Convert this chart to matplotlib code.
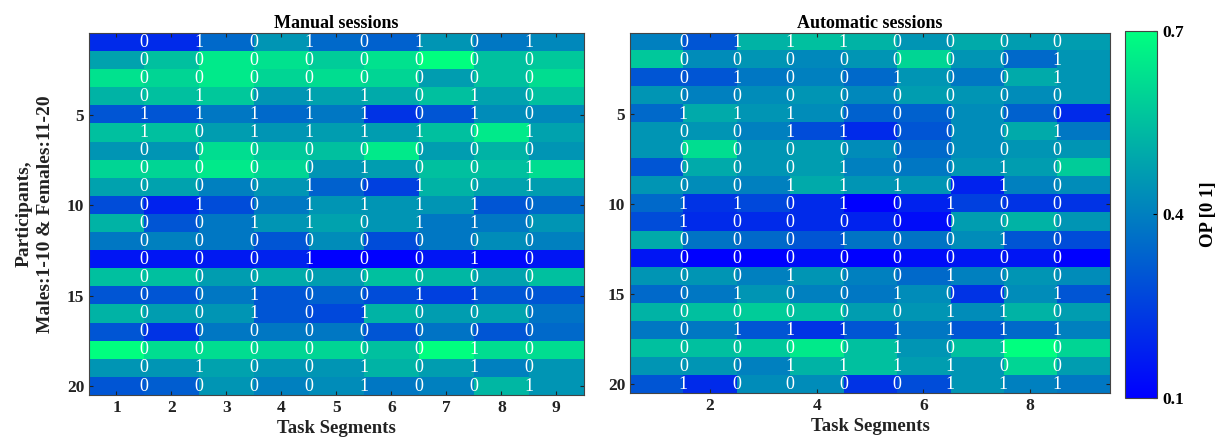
import numpy as np
import matplotlib
matplotlib.use('Agg')
import matplotlib.pyplot as plt

# OP values (20 participants x 9 task segments)
manual_op = [
    [0.20, 0.20, 0.35, 0.45, 0.35, 0.33, 0.45, 0.38, 0.42],
    [0.48, 0.55, 0.65, 0.63, 0.58, 0.63, 0.70, 0.55, 0.57],
    [0.63, 0.60, 0.65, 0.60, 0.62, 0.60, 0.47, 0.55, 0.62],
    [0.52, 0.55, 0.57, 0.45, 0.48, 0.50, 0.55, 0.48, 0.55],
    [0.30, 0.30, 0.38, 0.35, 0.38, 0.22, 0.30, 0.43, 0.42],
    [0.55, 0.55, 0.47, 0.45, 0.47, 0.47, 0.55, 0.65, 0.48],
    [0.45, 0.45, 0.62, 0.57, 0.55, 0.65, 0.47, 0.52, 0.45],
    [0.60, 0.60, 0.65, 0.60, 0.45, 0.47, 0.55, 0.55, 0.62],
    [0.48, 0.48, 0.40, 0.45, 0.33, 0.25, 0.52, 0.48, 0.47],
    [0.28, 0.18, 0.28, 0.38, 0.45, 0.45, 0.45, 0.30, 0.35],
    [0.52, 0.30, 0.38, 0.45, 0.48, 0.45, 0.38, 0.38, 0.45],
    [0.38, 0.40, 0.38, 0.30, 0.43, 0.28, 0.38, 0.43, 0.40],
    [0.15, 0.15, 0.16, 0.18, 0.10, 0.10, 0.15, 0.12, 0.15],
    [0.55, 0.55, 0.47, 0.50, 0.47, 0.55, 0.53, 0.48, 0.55],
    [0.30, 0.30, 0.38, 0.30, 0.33, 0.28, 0.25, 0.30, 0.30],
    [0.52, 0.47, 0.45, 0.30, 0.27, 0.52, 0.47, 0.48, 0.37],
    [0.30, 0.22, 0.38, 0.38, 0.38, 0.30, 0.37, 0.30, 0.35],
    [0.70, 0.62, 0.62, 0.60, 0.60, 0.55, 0.70, 0.62, 0.62],
    [0.45, 0.45, 0.48, 0.45, 0.45, 0.52, 0.47, 0.40, 0.45],
    [0.30, 0.32, 0.45, 0.40, 0.43, 0.38, 0.40, 0.53, 0.45],
]

auto_op = [
    [0.40, 0.30, 0.52, 0.55, 0.52, 0.45, 0.50, 0.47, 0.47],
    [0.57, 0.43, 0.45, 0.42, 0.45, 0.60, 0.45, 0.35, 0.45],
    [0.30, 0.30, 0.38, 0.40, 0.35, 0.45, 0.38, 0.50, 0.45],
    [0.45, 0.40, 0.43, 0.45, 0.42, 0.47, 0.45, 0.43, 0.45],
    [0.35, 0.50, 0.45, 0.43, 0.33, 0.33, 0.43, 0.33, 0.20],
    [0.45, 0.45, 0.40, 0.28, 0.20, 0.30, 0.43, 0.50, 0.38],
    [0.45, 0.62, 0.45, 0.47, 0.43, 0.35, 0.43, 0.45, 0.45],
    [0.30, 0.50, 0.45, 0.47, 0.40, 0.38, 0.45, 0.47, 0.58],
    [0.45, 0.43, 0.40, 0.50, 0.45, 0.45, 0.18, 0.40, 0.43],
    [0.35, 0.22, 0.27, 0.20, 0.10, 0.18, 0.25, 0.22, 0.22],
    [0.28, 0.20, 0.20, 0.20, 0.18, 0.13, 0.47, 0.52, 0.45],
    [0.50, 0.37, 0.35, 0.30, 0.37, 0.37, 0.43, 0.30, 0.28],
    [0.15, 0.10, 0.10, 0.13, 0.10, 0.13, 0.15, 0.15, 0.10],
    [0.45, 0.45, 0.40, 0.45, 0.40, 0.35, 0.40, 0.45, 0.43],
    [0.35, 0.38, 0.45, 0.40, 0.38, 0.43, 0.22, 0.43, 0.30],
    [0.52, 0.55, 0.58, 0.55, 0.47, 0.45, 0.43, 0.52, 0.47],
    [0.38, 0.38, 0.30, 0.22, 0.30, 0.38, 0.30, 0.35, 0.40],
    [0.55, 0.55, 0.57, 0.65, 0.55, 0.45, 0.55, 0.70, 0.60],
    [0.45, 0.45, 0.40, 0.52, 0.55, 0.47, 0.45, 0.60, 0.47],
    [0.30, 0.20, 0.43, 0.43, 0.22, 0.28, 0.45, 0.40, 0.38],
]

# 0/1 labels written over the maps (8 per row)
manual_bits = [
    "01010101", "00000000", "00000000", "01011010", "11111010",
    "10111101", "00000000", "00001001", "00010101", "01011110",
    "00110110", "00000000", "00010010", "00000000", "00100110",
    "00101000", "00000000", "00000010", "01001010", "00001001",
]
auto_bits = [
    "01110000", "00000001", "01001001", "00000000", "11100000",
    "00110001", "00000000", "00010010", "00111010", "11010100",
    "10000000", "00010010", "00000000", "00100100", "01001001",
    "00000110", "01111111", "00001010", "00111100", "10000111",
]

titles = ['Manual sessions', 'Automatic sessions']
ylabel = 'Participants,\nMales:1-10 & Females:11-20'
xlabel = 'Task Segments'
cbar_label = 'OP [0 1]'

plt.rcParams['font.family'] = ['Liberation Serif', 'DejaVu Serif']
plt.rcParams['font.weight'] = 'bold'

fig = plt.figure(figsize=(12.31, 4.48), dpi=100)
ax1 = fig.add_axes([0.0723, 0.118, 0.402, 0.808])
ax2 = fig.add_axes([0.5118, 0.122, 0.390, 0.804])
cax = fig.add_axes([0.9139, 0.112, 0.026, 0.819])

panels = [(ax1, manual_op, manual_bits, range(1, 10)),
          (ax2, auto_op, auto_bits, [2, 4, 6, 8])]

for ax, op, bits, xt in panels:
    data = np.array(op)
    im = ax.imshow(data, cmap='winter', vmin=0.1, vmax=0.7, aspect='auto',
                   interpolation='nearest', extent=(0.5, 9.5, 20.5, 0.5))
    for i, row in enumerate(bits):
        for j, ch in enumerate(row):
            ax.text(j + 1.5, i + 1, ch, color='white', ha='center',
                    va='center', fontsize=13, fontweight='normal')
    ax.set_xticks(list(xt))
    ax.set_yticks([5, 10, 15, 20])
    ax.tick_params(direction='in', top=True, right=True, length=3,
                   labelsize=12.5, colors='#222222', width=0.8)
    for lab in ax.get_xticklabels() + ax.get_yticklabels():
        lab.set_fontweight('bold')
    for s in ax.spines.values():
        s.set_color('#444444')
    ax.set_xlabel(xlabel, fontsize=13.5, fontweight='bold', color='#222222',
                  labelpad=3)

ax1.set_title(titles[0], fontsize=13, fontweight='bold', pad=4)
ax2.set_title(titles[1], fontsize=13, fontweight='bold', pad=4)
ax1.set_ylabel(ylabel, fontsize=14, fontweight='bold', color='#222222',
               labelpad=9, linespacing=1.35)

cb = fig.colorbar(im, cax=cax, ticks=[0.1, 0.4, 0.7])
cb.ax.tick_params(direction='in', length=3, labelsize=12.5, width=0.8)
for lab in cb.ax.get_yticklabels():
    lab.set_fontweight('bold')
cb.outline.set_edgecolor('#444444')
cb.set_label(cbar_label, fontsize=13.5, fontweight='bold', labelpad=12)

fig.savefig('out.png', dpi=100)
